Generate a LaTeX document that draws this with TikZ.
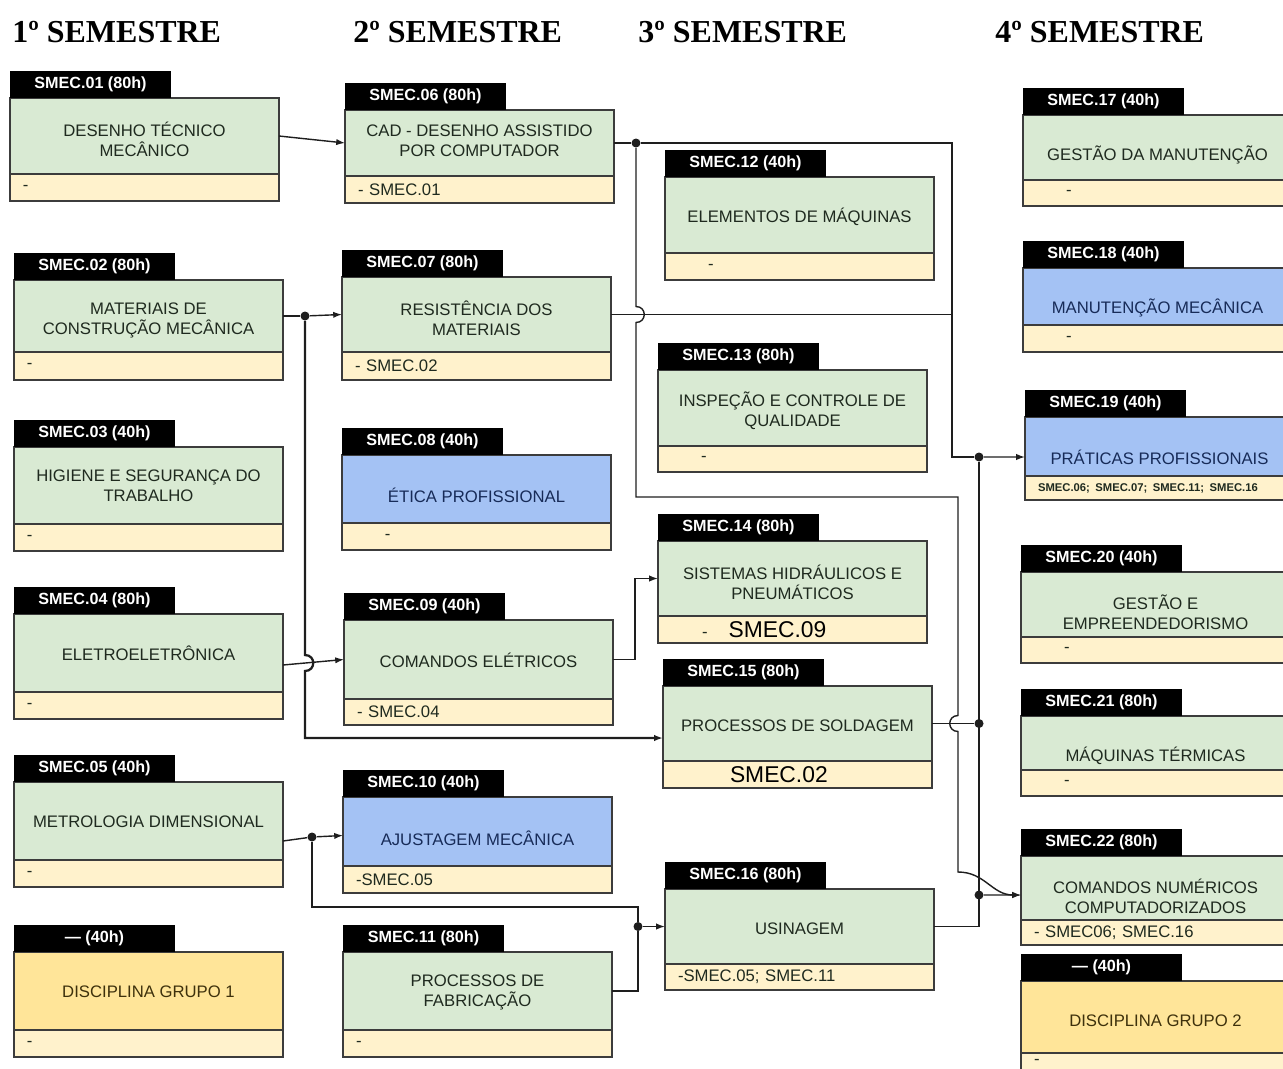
\documentclass[tikz,border=0pt]{standalone}
\usepackage{fontspec}
\newfontfamily\boxfont{Liberation Sans}
\newfontfamily\headfont{Liberation Serif}
\usepackage{xcolor}
\definecolor{Col0}{HTML}{3C3C3C}
\definecolor{Col1}{HTML}{D9EAD3}
\definecolor{Col2}{HTML}{FFF2CC}
\definecolor{Col3}{HTML}{A4C2F4}
\definecolor{Col4}{HTML}{FFE599}
\definecolor{ColT1}{HTML}{1F2A1F}
\definecolor{ColT3}{HTML}{172B58}
\definecolor{ColT4}{HTML}{3E310C}
\definecolor{ColE}{HTML}{1E1E1E}
\usetikzlibrary{arrows.meta}
\newcommand\BoxFont{\boxfont\fontsize{9.5}{11.4}\selectfont}
\tikzstyle{Head}=[anchor=base west,inner sep=0pt,
    font=\headfont\bfseries\fontsize{18.2}{20}\selectfont]
\tikzstyle{Box}=[draw=Col0,line width=0.8pt,anchor=north west,
    inner sep=0pt,outer sep=0pt,minimum width=5.38cm]
\tikzstyle{Green}=[fill=Col1]
\tikzstyle{Blue}=[fill=Col3]
\tikzstyle{Orange}=[fill=Col4]
\tikzstyle{Tab}=[fill=black,anchor=south west,inner sep=0pt,outer sep=0pt,
    minimum width=3.22cm,minimum height=0.54cm,text=white,
    font=\boxfont\bfseries\fontsize{9.2}{10}\selectfont]
\tikzstyle{Txt}=[align=center,inner sep=0pt,font=\BoxFont]
\tikzstyle{TxtG}=[text=ColT1]
\tikzstyle{TxtB}=[text=ColT3]
\tikzstyle{TxtO}=[text=ColT4]
\tikzstyle{Req}=[Box,fill=Col2,inner xsep=0.26cm,text width=4.86cm,
    align=left,font=\BoxFont,text=ColT1]
\tikzstyle{Edge}=[draw=ColE,line width=0.8pt]
\tikzstyle{Arr}=[Edge,-{Latex[length=5pt,width=3.6pt]}]
\tikzstyle{Dot}=[circle,fill=ColE,inner sep=0pt,minimum size=0.18cm]
\tikzset{Ht/.style={minimum height=#1*0.02cm}}
\newcommand\BigReq{\color{black}\fontsize{13}{13}\selectfont}

\begin{document}
\begin{tikzpicture}[x=0.02cm,y=-0.02cm]
    \useasboundingbox(0,0)rectangle(1283,1068);
    % semesters
    \node[Head](s1)at(12,43){1º SEMESTRE};
    \node[Head](s2)at(353,43){2º SEMESTRE};
    \node[Head](s3)at(638,43){3º SEMESTRE};
    \node[Head](s4)at(995,43){4º SEMESTRE};
    % 1st semester
    \node[Box,Green,Ht=76](c01)at(10,98){};
    \node[Tab](t01)at(c01.north west){SMEC.01 (80h)};
    \node[Txt,TxtG](n01)at(144.5,139){DESENHO TÉCNICO\\MECÂNICO};
    \node[Req,Ht=27](r01)at(c01.south west){-};
    \node[Box,Green,Ht=72](c02)at(14,280){};
    \node[Tab](t02)at(c02.north west){SMEC.02 (80h)};
    \node[Txt,TxtG](n02)at(148.5,320){MATERIAIS DE\\CONSTRUÇÃO MECÂNICA};
    \node[Req,Ht=28](r02)at(c02.south west){-};
    \node[Box,Green,Ht=77](c03)at(14,447){};
    \node[Tab](t03)at(c03.north west){SMEC.03 (40h)};
    \node[Txt,TxtG](n03)at(148.5,486){HIGIENE E SEGURANÇA DO\\TRABALHO};
    \node[Req,Ht=27](r03)at(c03.south west){-};
    \node[Box,Green,Ht=78](c04)at(14,614){};
    \node[Tab](t04)at(c04.north west){SMEC.04 (80h)};
    \node[Txt,TxtG](n04)at(148.5,653){ELETROELETRÔNICA};
    \node[Req,Ht=27](r04)at(c04.south west){-};
    \node[Box,Green,Ht=78](c05)at(14,782){};
    \node[Tab](t05)at(c05.north west){SMEC.05 (40h)};
    \node[Txt,TxtG](n05)at(148.5,822){METROLOGIA DIMENSIONAL};
    \node[Req,Ht=27](r05)at(c05.south west){-};
    \node[Box,Orange,Ht=78](g1)at(14,952){};
    \node[Tab](tg1)at(g1.north west){— (40h)};
    \node[Txt,TxtO](ng1)at(148.5,992){DISCIPLINA GRUPO 1};
    \node[Req,Ht=27](rg1)at(g1.south west){-};
    % 2nd semester
    \node[Box,Green,Ht=66](c06)at(345,110){};
    \node[Tab](t06)at(c06.north west){SMEC.06 (80h)};
    \node[Txt,TxtG](n06)at(479.5,141){CAD - DESENHO ASSISTIDO\\POR COMPUTADOR};
    \node[Req,Ht=27](r06)at(c06.south west){- SMEC.01};
    \node[Box,Green,Ht=75](c07)at(342,277){};
    \node[Tab](t07)at(c07.north west){SMEC.07 (80h)};
    \node[Txt,TxtG](n07)at(476.5,318){RESISTÊNCIA DOS\\MATERIAIS};
    \node[Req,Ht=28](r07)at(c07.south west){- SMEC.02};
    \node[Box,Blue,Ht=68](c08)at(342,455){};
    \node[Tab](t08)at(c08.north west){SMEC.08 (40h)};
    \node[Txt,TxtB](n08)at(476.5,495){ÉTICA PROFISSIONAL};
    \node[Req,Ht=27](r08)at(c08.south west){\hspace*{0.6cm}-};
    \node[Box,Green,Ht=79](c09)at(344,620){};
    \node[Tab](t09)at(c09.north west){SMEC.09 (40h)};
    \node[Txt,TxtG](n09)at(478.5,660){COMANDOS ELÉTRICOS};
    \node[Req,Ht=26](r09)at(c09.south west){- SMEC.04};
    \node[Box,Blue,Ht=69](c10)at(343,797){};
    \node[Tab](t10)at(c10.north west){SMEC.10 (40h)};
    \node[Txt,TxtB](n10)at(477.5,838){AJUSTAGEM MECÂNICA};
    \node[Req,Ht=27](r10)at(c10.south west){-SMEC.05};
    \node[Box,Green,Ht=78](c11)at(343,952){};
    \node[Tab](t11)at(c11.north west){SMEC.11 (80h)};
    \node[Txt,TxtG](n11)at(477.5,992){PROCESSOS DE\\FABRICAÇÃO};
    \node[Req,Ht=27](r11)at(c11.south west){-};
    % 3rd semester
    \node[Box,Green,Ht=76](c12)at(665,177){};
    \node[Tab](t12)at(c12.north west){SMEC.12 (40h)};
    \node[Txt,TxtG](n12)at(799.5,217){ELEMENTOS DE MÁQUINAS};
    \node[Req,Ht=27](r12)at(c12.south west){\hspace*{0.6cm}-};
    \node[Box,Green,Ht=76](c13)at(658,370){};
    \node[Tab](t13)at(c13.north west){SMEC.13 (80h)};
    \node[Txt,TxtG](n13)at(792.5,411){INSPEÇÃO E CONTROLE DE\\QUALIDADE};
    \node[Req,Ht=26](r13)at(c13.south west){\hspace*{0.6cm}-};
    \node[Box,Green,Ht=75](c14)at(658,541){};
    \node[Tab](t14)at(c14.north west){SMEC.14 (80h)};
    \node[Txt,TxtG](n14)at(792.5,582){SISTEMAS HIDRÁULICOS E\\PNEUMÁTICOS};
    \node[Req,Ht=27](r14)at(c14.south west){\hspace*{0.62cm}-\hspace*{0.42cm}{\BigReq SMEC.09}};
    \node[Box,Green,Ht=75](c15)at(663,686){};
    \node[Tab](t15)at(c15.north west){SMEC.15 (80h)};
    \node[Txt,TxtG](n15)at(797.5,726){PROCESSOS DE SOLDAGEM};
    \node[Req,Ht=27](r15)at(c15.south west){\hspace*{1.08cm}{\BigReq SMEC.02}};
    \node[Box,Green,Ht=75](c16)at(665,889){};
    \node[Tab](t16)at(c16.north west){SMEC.16 (80h)};
    \node[Txt,TxtG](n16)at(799.5,929){USINAGEM};
    \node[Req,Ht=26](r16)at(c16.south west){-SMEC.05; SMEC.11};
    % 4th semester
    \node[Box,Green,Ht=65](c17)at(1023,115){};
    \node[Tab](t17)at(c17.north west){SMEC.17 (40h)};
    \node[Txt,TxtG](n17)at(1157.5,155){GESTÃO DA MANUTENÇÃO};
    \node[Req,Ht=26](r17)at(c17.south west){\hspace*{0.6cm}-};
    \node[Box,Blue,Ht=57](c18)at(1023,268){};
    \node[Tab](t18)at(c18.north west){SMEC.18 (40h)};
    \node[Txt,TxtB](n18)at(1157.5,308){MANUTENÇÃO MECÂNICA};
    \node[Req,Ht=27](r18)at(c18.south west){\hspace*{0.6cm}-};
    \node[Box,Blue,Ht=59](c19)at(1025,417){};
    \node[Tab](t19)at(c19.north west){SMEC.19 (40h)};
    \node[Txt,TxtB](n19)at(1159.5,457){PRÁTICAS PROFISSIONAIS};
    \node[Req,Ht=24](r19)at(c19.south west)
        {\bfseries\fontsize{6.4}{7}\selectfont SMEC.06; SMEC.07; SMEC.11; SMEC.16};
    \node[Box,Green,Ht=65](c20)at(1021,572){};
    \node[Tab](t20)at(c20.north west){SMEC.20 (40h)};
    \node[Txt,TxtG](n20)at(1155.5,612){GESTÃO E\\EMPREENDEDORISMO};
    \node[Req,Ht=26](r20)at(c20.south west){\hspace*{0.6cm}-};
    \node[Box,Green,Ht=54](c21)at(1021,716){};
    \node[Tab](t21)at(c21.north west){SMEC.21 (80h)};
    \node[Txt,TxtG](n21)at(1155.5,756){MÁQUINAS TÉRMICAS};
    \node[Req,Ht=26](r21)at(c21.south west){\hspace*{0.6cm}-};
    \node[Box,Green,Ht=64](c22)at(1021,856){};
    \node[Tab](t22)at(c22.north west){SMEC.22 (80h)};
    \node[Txt,TxtG](n22)at(1155.5,896){COMANDOS NUMÉRICOS\\COMPUTADORIZADOS};
    \node[Req,Ht=25](r22)at(c22.south west){- SMEC06; SMEC.16};
    \node[Box,Orange,Ht=72](g2)at(1021,981){};
    \node[Tab](tg2)at(g2.north west){— (40h)};
    \node[Txt,TxtO](ng2)at(1155.5,1021){DISCIPLINA GRUPO 2};
    \node[Req,Ht=17](rg2)at(g2.south west){-};
    % junctions
    \node[Dot](d02)at(305,316){};
    \node[Dot](d05)at(312,837){};
    \node[Dot](d06)at(636,143){};
    \node[Dot](d16)at(638,926.5){};
    \node[Dot](d19)at(979,457){};
    \node[Dot](d15)at(979,723.5){};
    \node[Dot](d22)at(979,895){};
    % prerequisites
    \draw[Arr](c01.east)--(c06.west);
    \draw[Edge](c02.east)--(d02);
    \draw[Arr](d02)--(c07.west);
    \draw[Arr,line width=1.3pt](d02)--(305,655)
        ..controls(316,655)and(316,671)..(305,671)
        --(305,738)--([yshift=-0.29cm]c15.west);
    \draw[Arr]([yshift=-0.24cm]c04.east)--(c09.west);
    \draw[Arr](c09.east)--++(22,0)|-(c14.west);
    \draw[Edge](c06.east)--(d06);
    \draw[Edge](d06)--(952,143)--(952,457)--(d19);
    \draw[Edge](c07.east)--(952,314.5);
    \draw[Arr](d19)--([yshift=-0.21cm]c19.west);
    \draw[Arr](d06)--(636,306.5)
        ..controls(647,306.5)and(647,322.5)..(636,322.5)
        --(636,497)--(958,497)--(958,715.5)
        ..controls(947,715.5)and(947,731.5)..(958,731.5)
        --(958,872)..controls(985,872)and(992,895)..([yshift=-0.14cm]c22.west);
    \draw[Edge](c15.east)--(d15);
    \draw[Edge](c16.east)-|(d19);
    \draw[Arr](d22)--([yshift=-0.14cm]c22.west);
    \draw[Edge]([yshift=-0.4cm]c05.east)--(d05);
    \draw[Arr](d05)--([yshift=-0.08cm]c10.west);
    \draw[Edge](d05)|-(638,907)--(d16);
    \draw[Arr](d16)--(c16.west);
    \draw[Edge](c11.east)-|(d16);
\end{tikzpicture}
\end{document}
